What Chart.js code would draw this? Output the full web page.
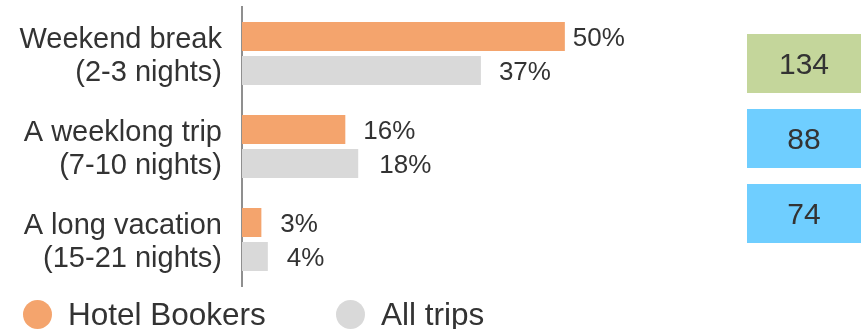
<!DOCTYPE html>
<html>
<head>
<meta charset="utf-8">
<script src="https://cdn.jsdelivr.net/npm/chart.js@4"></script>
<style>
  html, body { margin: 0; padding: 0; background: #fff; }
  #wrap { position: relative; width: 863px; height: 329px; font-family: "Liberation Sans", Arial, sans-serif; color: #333; }
  #chartBox { position: absolute; left: 0; top: 0; width: 863px; height: 329px; }
  #index { position: absolute; left: 747px; top: 34px; width: 114px; display: flex; flex-direction: column; gap: 16px; }
  .idx { height: 59px; line-height: 59px; text-align: center; font-size: 30px; }
  .leg { position: absolute; top: 296px; height: 36px; display: flex; align-items: center; font-size: 31.5px; }
  .dot { width: 29px; height: 29px; border-radius: 50%; margin-right: 16px; flex: none; }
</style>
</head>
<body>
<div id="wrap">
  <div id="chartBox"><canvas id="chart"></canvas></div>
  <div id="index"></div>
  <div id="legend"></div>
</div>
<script>
// Trip length categories (two-line labels)
const categories = [
  ["Weekend break", "(2-3 nights)"],
  ["A weeklong trip", "(7-10 nights)"],
  ["A long vacation", "(15-21 nights)"]
];
const seriesNames = ["Hotel Bookers", "All trips"];
const hotelBookers = [50, 16, 3];   // % share
const allTrips = [37, 18, 4];       // % share
const indexValues = [134, 88, 74];  // index vs. all trips

const seriesColors = ["#F4A46D", "#D9D9D9"];
const indexColors = ["#C4D69B", "#6FCEFF", "#6FCEFF"];
const FONT = '"Liberation Sans", Arial, sans-serif';

// Percentage labels drawn just past the end of each bar
const valueLabels = {
  id: 'valueLabels',
  afterDatasetsDraw(chart, args, opts) {
    const ctx = chart.ctx;
    ctx.save();
    ctx.font = opts.font;
    ctx.fillStyle = opts.color;
    ctx.textAlign = 'left';
    ctx.textBaseline = 'middle';
    chart.data.datasets.forEach((ds, di) => {
      chart.getDatasetMeta(di).data.forEach((bar, i) => {
        const gap = opts.gaps[di][i];
        ctx.fillText(ds.data[i] + '%', bar.x + gap, bar.y + 2);
      });
    });
    ctx.restore();
  }
};

new Chart(document.getElementById('chart'), {
  type: 'bar',
  data: {
    labels: categories,
    datasets: [
      { label: seriesNames[0], data: hotelBookers, backgroundColor: seriesColors[0],
        categoryPercentage: 0.731, barPercentage: 0.853 },
      { label: seriesNames[1], data: allTrips, backgroundColor: seriesColors[1],
        categoryPercentage: 0.731, barPercentage: 0.853 }
    ]
  },
  options: {
    indexAxis: 'y',
    responsive: true,
    maintainAspectRatio: false,
    animation: false,
    layout: { padding: { top: 7, bottom: 43, left: 0, right: 169 } },
    scales: {
      x: { display: false, min: 0, max: 70 },
      y: {
        grid: { display: false, drawTicks: false },
        border: { display: true, color: '#8f8f8f', width: 2 },
        ticks: { color: '#333', padding: 20, labelOffset: 3,
                 font: { family: FONT, size: 29, lineHeight: 1.14 } },
        afterFit(scale) {
          scale.width = 242;
          // the axis line runs the full plot height; labels may sit inside it
          scale.paddingTop = 0;
          scale.paddingBottom = 0;
        }
      }
    },
    plugins: {
      legend: { display: false },
      tooltip: { enabled: false },
      valueLabels: {
        font: '26px ' + FONT,
        color: '#333',
        gaps: [[8, 18, 19], [18, 21, 19]]
      }
    }
  },
  plugins: [valueLabels]
});

// Index boxes on the right
const indexBox = document.getElementById('index');
indexValues.forEach((v, i) => {
  const d = document.createElement('div');
  d.className = 'idx';
  d.style.background = indexColors[i];
  d.textContent = v;
  indexBox.appendChild(d);
});

// Legend
const legend = document.getElementById('legend');
const legendLeft = [23, 336];
seriesNames.forEach((name, i) => {
  const item = document.createElement('div');
  item.className = 'leg';
  item.style.left = legendLeft[i] + 'px';
  const dot = document.createElement('span');
  dot.className = 'dot';
  dot.style.background = seriesColors[i];
  const txt = document.createElement('span');
  txt.textContent = name;
  item.appendChild(dot);
  item.appendChild(txt);
  legend.appendChild(item);
});
</script>
</body>
</html>
